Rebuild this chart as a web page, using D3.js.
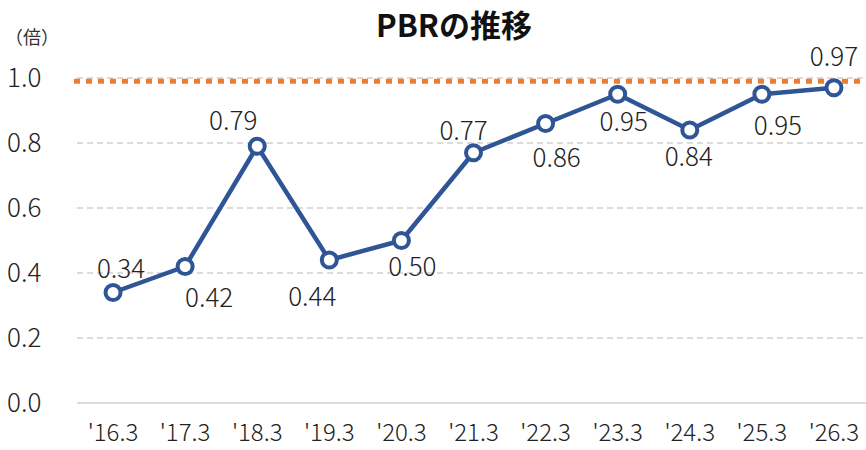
<!DOCTYPE html>
<html>
<head>
<meta charset="utf-8">
<script src="https://cdn.jsdelivr.net/npm/d3@7"></script>
<style>
  body { margin: 0; background: #fff; }
  text { font-family: "Noto Sans CJK JP", "Noto Sans", sans-serif; fill: #222; }
</style>
</head>
<body>
<script>
var width = 866;
var height = 450;

// data
var years = ["'16.3", "'17.3", "'18.3", "'19.3", "'20.3", "'21.3", "'22.3", "'23.3", "'24.3", "'25.3", "'26.3"];
var pbr = [0.34, 0.42, 0.79, 0.44, 0.50, 0.77, 0.86, 0.95, 0.84, 0.95, 0.97];
var yTicks = [0.0, 0.2, 0.4, 0.6, 0.8, 1.0];
var refLevel = 0.99;

// label placement (dx, dy of label centre from the point)
var labelOffsets = [[8, -24], [24, 31], [-24, -25], [-17, 37], [11, 26], [-10, -22],
                    [11, 34], [6, 28], [-1, 27], [16, 32], [0, -31]];

var svg = d3.select("body").append("svg")
    .attr("width", width)
    .attr("height", height);

var x = d3.scaleBand().domain(years).range([77, 870]);
var y = d3.scaleLinear().domain([0, 1]).range([403, 78]);

// title
svg.append("text")
    .attr("x", 454)
    .attr("y", 37)
    .attr("text-anchor", "middle")
    .style("font-size", "31px")
    .style("font-weight", "bold")
    .style("fill", "#111")
    .text("PBRの推移");

svg.append("text")
    .attr("x", 5)
    .attr("y", 44)
    .style("font-size", "18px")
    .style("fill", "#333")
    .text("（倍）");

// gridlines
svg.append("g").selectAll("line")
    .data(yTicks)
    .enter()
    .append("line")
    .attr("x1", 77)
    .attr("x2", 870)
    .attr("y1", function(d) { return y(d); })
    .attr("y2", function(d) { return y(d); })
    .attr("stroke", "#d0d0d0")
    .attr("stroke-width", 1.5)
    .attr("stroke-dasharray", function(d) { return d === 0 ? null : "6,4"; });

// y labels
svg.append("g").selectAll("text")
    .data(yTicks)
    .enter()
    .append("text")
    .attr("x", 7)
    .attr("y", function(d) { return y(d) + 9; })
    .style("font-size", "26px")
    .style("font-weight", "300")
    .text(function(d) { return d.toFixed(1); });

// x labels
svg.append("g").selectAll("text")
    .data(years)
    .enter()
    .append("text")
    .attr("x", function(d) { return x(d) + x.bandwidth() / 2; })
    .attr("y", 441)
    .attr("text-anchor", "middle")
    .style("font-size", "24px")
    .style("font-weight", "300")
    .text(function(d) { return d; });

// reference line
svg.append("line")
    .attr("x1", 74)
    .attr("x2", 866)
    .attr("y1", y(refLevel))
    .attr("y2", y(refLevel))
    .attr("stroke", "#ED7D31")
    .attr("stroke-width", 5)
    .attr("stroke-dasharray", "6,6");

// line
var line = d3.line()
    .x(function(d, i) { return x(years[i]) + x.bandwidth() / 2; })
    .y(function(d) { return y(d); });

svg.append("path")
    .datum(pbr)
    .attr("d", line)
    .attr("fill", "none")
    .attr("stroke", "#2F5597")
    .attr("stroke-width", 4.5)
    .attr("stroke-linejoin", "round");

svg.append("g").selectAll("circle")
    .data(pbr)
    .enter()
    .append("circle")
    .attr("cx", function(d, i) { return x(years[i]) + x.bandwidth() / 2; })
    .attr("cy", function(d) { return y(d); })
    .attr("r", 7.5)
    .attr("fill", "#fff")
    .attr("stroke", "#2F5597")
    .attr("stroke-width", 4);

// data labels
svg.append("g").selectAll("text")
    .data(pbr)
    .enter()
    .append("text")
    .attr("x", function(d, i) { return x(years[i]) + x.bandwidth() / 2 + labelOffsets[i][0]; })
    .attr("y", function(d, i) { return y(d) + labelOffsets[i][1] + 9; })
    .attr("text-anchor", "middle")
    .style("font-size", "26px")
    .style("font-weight", "300")
    .text(function(d) { return d.toFixed(2); });
</script>
</body>
</html>
